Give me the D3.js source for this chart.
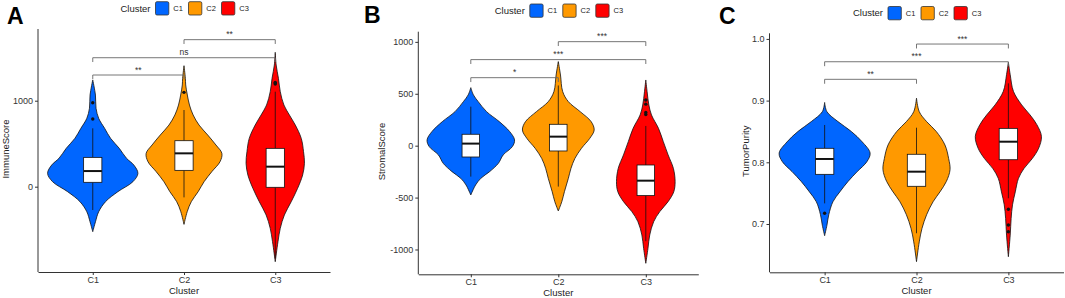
<!DOCTYPE html>
<html lang="en">
<head>
<meta charset="UTF-8">
<title>Cluster violins</title>
<script src="https://d3js.org/d3.v7.min.js"></script>
<style>
  body { margin: 0; background: #fff; }
  svg text { font-family: "Liberation Sans", Arial, sans-serif; }
</style>
</head>
<body>
<svg id="chart" width="1065" height="298"></svg>
<script>
const clusters = ["C1", "C2", "C3"];
const clusterColors = ["#0066FF", "#FF9900", "#FF0000"];

// violin outlines: [value, full width as share of the band]
const immuneViolins = [
  [[1241,0],[1066,.059],[912,.072],[795,.13],[679,.26],[563,.39],[447,.58],[330,.74],[252,.90],[155,.99],[58,.88],[-58,.55],[-174,.28],[-291,.13],[-407,.06],[-523,0]],
  [[1407,0],[1260,.03],[1183,.037],[1066,.073],[950,.12],[834,.2],[717,.33],[601,.52],[485,.7],[388,.83],[291,.79],[175,.61],[58,.44],[-58,.31],[-174,.16],[-291,.07],[-438,0]],
  [[1563,0],[1415,.02],[1260,.07],[1105,.11],[950,.19],[834,.31],[717,.44],[562,.57],[407,.62],[272,.64],[136,.60],[-19,.49],[-174,.35],[-329,.20],[-484,.11],[-639,.06],[-872,0]]
];
const stromalViolins = [
  [[559,0],[489,.06],[424,.17],[328,.36],[232,.65],[135,.89],[55,1.0],[-9,.95],[-89,.74],[-170,.63],[-250,.43],[-314,.23],[-378,.11],[-475,0]],
  [[810,0],[681,.05],[521,.10],[424,.23],[328,.50],[232,.75],[151,.82],[71,.72],[-25,.53],[-122,.38],[-218,.29],[-314,.23],[-443,.14],[-539,.08],[-629,0]],
  [[633,0],[520,.03],[392,.07],[296,.13],[167,.29],[39,.40],[-89,.51],[-218,.63],[-346,.67],[-443,.64],[-539,.51],[-635,.32],[-732,.18],[-860,.09],[-989,.05],[-1133,0]]
];
const purityViolins = [
  [[.897,0],[.882,.05],[.866,.29],[.850,.58],[.833,.82],[.815,.99],[.801,.92],[.785,.71],[.769,.51],[.752,.33],[.736,.18],[.715,.09],[.698,.05],[.681,0]],
  [[.904,0],[.882,.06],[.866,.22],[.850,.43],[.828,.62],[.806,.70],[.788,.73],[.769,.65],[.752,.51],[.736,.36],[.715,.22],[.693,.12],[.671,.06],[.639,0]],
  [[.962,0],[.942,.04],[.915,.11],[.893,.29],[.877,.47],[.861,.62],[.842,.72],[.823,.66],[.806,.52],[.790,.34],[.774,.22],[.752,.15],[.731,.09],[.709,.06],[.682,.04],[.647,0]]
];

// box stats: [lower whisker, q1, median, q3, upper whisker]
const immuneBoxes = [[-271, 51, 182, 341, 679], [-124, 190, 388, 535, 892], [-833, -7, 233, 446, 1105]];
const stromalBoxes = [[-298, -109, 20, 110, 376], [-394, -51, 87, 206, 580], [-920, -481, -337, -186, 190]];
const purityBoxes = [[.7334, .7805, .8054, .8227, .8605], [.685, .7611, .7848, .813, .8561], [.7417, .8042, .8334, .855, .928]];

const immuneOutliers = [[787, 977], [1097], [1195, 1205, 1212]];
const stromalOutliers = [[], [], [300, 320, 400, 440]];
const purityOutliers = [[.7173], [], [.7238, .6984, .6875]];

// comparisons: [group a, group b, bracket height, label]
const immuneBrackets = [["C2", "C3", 1710, "**"], ["C1", "C3", 1500, "ns"], ["C1", "C2", 1299, "**"]];
const stromalBrackets = [["C2", "C3", 1002, "***"], ["C1", "C3", 829, "***"], ["C1", "C2", 655, "*"]];
const purityBrackets = [["C2", "C3", .9917, "***"], ["C1", "C3", .963, "***"], ["C1", "C2", .9345, "**"]];

const immuneDomain = [-992, 1834], immuneTicks = [0, 1000];
const stromalDomain = [-1239, 1098], stromalTicks = [-1000, -500, 0, 500, 1000];
const purityDomain = [0.6217, 1.0091], purityTicks = [0.7, 0.8, 0.9, 1.0];

const panels = [
  {letter: "A", title: "ImmuneScore", violins: immuneViolins, boxes: immuneBoxes, outliers: immuneOutliers,
   brackets: immuneBrackets, domain: immuneDomain, ticks: immuneTicks, fmt: d => String(d),
   left: 38, right: 330, top: 29, bottom: 272, letterX: 7, letterY: 24, legendY: 1.7, titleX: 6, tip: 50},
  {letter: "B", title: "StromalScore", violins: stromalViolins, boxes: stromalBoxes, outliers: stromalOutliers,
   brackets: stromalBrackets, domain: stromalDomain, ticks: stromalTicks, fmt: d => String(d),
   left: 418.3, right: 698.3, top: 31.7, bottom: 274.3, letterX: 364, letterY: 23.3, legendY: 4, titleX: 381.3, tip: 42},
  {letter: "C", title: "TumorPurity", violins: purityViolins, boxes: purityBoxes, outliers: purityOutliers,
   brackets: purityBrackets, domain: purityDomain, ticks: purityTicks, fmt: d3.format(".1f"),
   left: 769.5, right: 1063.5, top: 33.3, bottom: 272.3, letterX: 719, letterY: 23.5, legendY: 6.5, titleX: 745.5, tip: .0072}
];

const svg = d3.select("#chart");

panels.forEach(p => {
  const g = svg.append("g");
  const x = d3.scalePoint().domain(clusters).range([p.left, p.right]).padding(0.6);
  const step = x.step();
  const y = d3.scaleLinear().domain(p.domain).range([p.bottom, p.top]);

  // panel letter
  g.append("text")
    .attr("x", p.letterX).attr("y", p.letterY)
    .attr("font-size", 23).attr("font-weight", "bold")
    .text(p.letter);

  // legend
  const cx = (p.left + p.right) / 2;
  const lx = cx - 28.5;
  const key = 13.3;
  g.append("text")
    .attr("x", lx - 5).attr("y", p.legendY + key / 2)
    .attr("dy", "0.35em").attr("text-anchor", "end")
    .attr("font-size", 9.5).attr("fill", "#222")
    .text("Cluster");
  clusters.forEach((c, i) => {
    g.append("rect")
      .attr("x", lx + i * 33).attr("y", p.legendY)
      .attr("width", key).attr("height", key).attr("rx", 1.5)
      .attr("fill", clusterColors[i]).attr("stroke", "#333").attr("stroke-width", 0.8);
    g.append("text")
      .attr("x", lx + i * 33 + key + 4.5).attr("y", p.legendY + key / 2)
      .attr("dy", "0.35em").attr("font-size", 7.5).attr("fill", "#222")
      .text(c);
  });

  // axes
  const yAxis = g.append("g")
    .attr("transform", `translate(${p.left},0)`)
    .call(d3.axisLeft(y).tickValues(p.ticks).tickFormat(p.fmt).tickSize(3).tickSizeOuter(0).tickPadding(2));
  const xAxis = g.append("g")
    .attr("transform", `translate(0,${p.bottom})`)
    .call(d3.axisBottom(x).tickSize(3).tickSizeOuter(0).tickPadding(1.5));
  [yAxis, xAxis].forEach(a => {
    a.select(".domain").attr("stroke", "#333").attr("stroke-width", 1);
    a.selectAll(".tick line").attr("stroke", "#333");
    a.selectAll(".tick text").attr("font-size", 9).attr("fill", "#333")
      .style("font-family", '"Liberation Sans", Arial, sans-serif');
  });
  yAxis.select(".domain").attr("d", `M0,${p.bottom}V${p.top}`);

  g.append("text")
    .attr("x", cx).attr("y", p.bottom + 21.5)
    .attr("text-anchor", "middle").attr("font-size", 9.5).attr("fill", "#222")
    .text("Cluster");
  g.append("text")
    .attr("transform", `translate(${p.titleX},${(p.top + p.bottom) / 2 - 1.5}) rotate(-90)`)
    .attr("dy", "0.35em").attr("text-anchor", "middle")
    .attr("font-size", 9.5).attr("fill", "#222")
    .text(p.title);

  // violins with box plots
  clusters.forEach((c, i) => {
    const xc = x(c);
    const area = d3.area()
      .y(d => y(d[0]))
      .x0(d => xc - d[1] * step / 2)
      .x1(d => xc + d[1] * step / 2)
      .curve(d3.curveCatmullRom.alpha(0.5));
    g.append("path")
      .attr("d", area(p.violins[i]))
      .attr("fill", clusterColors[i])
      .attr("stroke", "#111").attr("stroke-width", 0.8);

    const [lo, q1, med, q3, hi] = p.boxes[i];
    const bw = step * 0.2;
    g.append("line").attr("x1", xc).attr("x2", xc).attr("y1", y(hi)).attr("y2", y(q3))
      .attr("stroke", "#111").attr("stroke-width", 0.8);
    g.append("line").attr("x1", xc).attr("x2", xc).attr("y1", y(q1)).attr("y2", y(lo))
      .attr("stroke", "#111").attr("stroke-width", 0.8);
    g.append("rect")
      .attr("x", xc - bw / 2).attr("width", bw)
      .attr("y", y(q3)).attr("height", y(q1) - y(q3))
      .attr("fill", "#fff").attr("stroke", "#111").attr("stroke-width", 0.8);
    g.append("line").attr("x1", xc - bw / 2).attr("x2", xc + bw / 2)
      .attr("y1", y(med)).attr("y2", y(med))
      .attr("stroke", "#111").attr("stroke-width", 2);
    g.selectAll(null).data(p.outliers[i]).enter().append("circle")
      .attr("cx", xc).attr("cy", d => y(d)).attr("r", 1.7).attr("fill", "#111");
  });

  // significance brackets
  p.brackets.forEach(([a, b, h, label]) => {
    const x1 = x(a), x2 = x(b), yy = y(h), yt = y(h - p.tip);
    g.append("path")
      .attr("d", `M${x1},${yt}V${yy}H${x2}V${yt}`)
      .attr("fill", "none").attr("stroke", "#666").attr("stroke-width", 0.9);
    g.append("text")
      .attr("x", (x1 + x2) / 2).attr("y", yy - 2.5)
      .attr("text-anchor", "middle").attr("font-size", 8.5).attr("fill", "#333")
      .text(label);
  });
});
</script>
</body>
</html>
